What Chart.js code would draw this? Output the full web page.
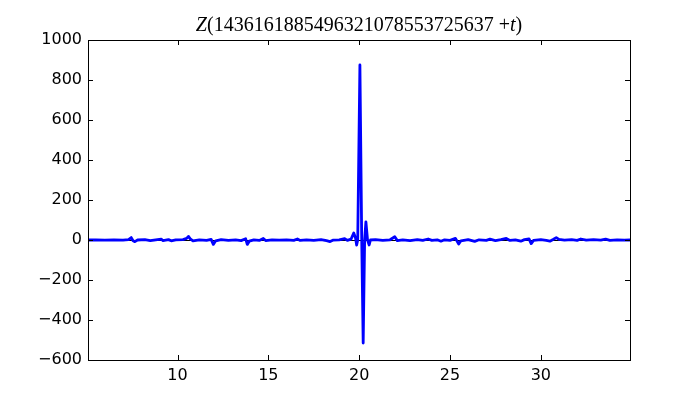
<!DOCTYPE html>
<html>
<head>
<meta charset="utf-8">
<script src="https://cdn.jsdelivr.net/npm/chart.js@4"></script>
<style>
    body { margin: 0; background: #fff; }
    #wrap { position: relative; width: 700px; height: 400px; }
    #title {
        position: absolute;
        left: 88px;
        width: 542px;
        top: 13px;
        text-align: center;
        font-family: "Liberation Serif", "DejaVu Serif", serif;
        font-size: 20px;
        line-height: 22px;
        color: #000;
        white-space: nowrap;
    }
</style>
</head>
<body>
<div id="wrap">
    <canvas id="zCanvas" width="700" height="400"></canvas>
    <div id="title"><i>Z</i>(1436161885496321078553725637 +<i>t</i>)</div>
</div>
<script>
// Data
const tValues = [
    5.07, 5.5, 6.0, 6.5, 7.0, 7.3, 7.45, 7.55, 7.65, 7.8,
    8.2, 8.5, 8.8, 9.1, 9.2, 9.5, 9.65, 9.9, 10.3, 10.5,
    10.6, 10.7, 10.85, 11.2, 11.6, 11.85, 11.97, 12.1, 12.4, 12.8,
    13.2, 13.5, 13.75, 13.84, 13.95, 14.2, 14.5, 14.72, 14.85, 15.2,
    15.6, 16.0, 16.4, 16.6, 16.75, 17.1, 17.5, 17.9, 18.2, 18.4,
    18.55, 18.9, 19.2, 19.35, 19.55, 19.7, 19.8, 19.86, 19.92, 20.04,
    20.14, 20.22, 20.3, 20.37, 20.46, 20.55, 20.62, 20.9, 21.3, 21.7,
    21.96, 22.1, 22.4, 22.8, 23.2, 23.5, 23.8, 24.0, 24.3, 24.5,
    24.7, 25.0, 25.3, 25.48, 25.6, 26.0, 26.36, 26.6, 27.0, 27.2,
    27.5, 27.8, 28.1, 28.3, 28.6, 28.9, 29.1, 29.35, 29.47, 29.6,
    30.0, 30.3, 30.5, 30.7, 30.85, 31.0, 31.3, 31.7, 32.0, 32.2,
    32.5, 32.9, 33.3, 33.57, 33.8, 34.2, 34.6, 34.91
];
const zValues = [
    0, 1, -1, 1, -1, 2, 12, -4, -8, 0,
    2, -3, 1, 4, -3, 2, -4, 1, 2, 8,
    18, 6, -4, 1, -2, 3, -22, -4, 2, -2,
    1, -3, 6, -22, -6, 1, -2, 8, -3, 1,
    -1, 1, -2, 5, -2, 1, -2, 2, -3, -8,
    -1, 1, 7, -2, 4, 35, 10, -25, 0, 875,
    0, -515, 0, 91, 0, -25, 0, 2, -2, 1,
    16, -3, 1, -3, 2, -2, 5, -2, 1, -6,
    1, -2, 8, -20, -4, 2, -7, 1, -2, 4,
    -3, 2, 8, -2, 1, -6, 2, 6, -18, -2,
    2, -2, -6, 4, 12, 3, -1, 2, -2, 5,
    -1, 2, -1, 4, -2, 1, -1, 0
];
const xTicks = [10, 15, 20, 25, 30];
const yMin = -600;
const yMax = 1000;
const yStep = 200;

// Frame, inward ticks and zero line like the classic matplotlib look
const framePlugin = {
    id: 'frame',
    beforeDatasetsDraw(chart) {
        const { ctx, chartArea, scales } = chart;
        const y0 = Math.round(scales.y.getPixelForValue(0)) + 0.5;
        ctx.save();
        ctx.strokeStyle = '#000';
        ctx.lineWidth = 1;
        ctx.beginPath();
        ctx.moveTo(chartArea.left, y0);
        ctx.lineTo(chartArea.right, y0);
        ctx.stroke();
        ctx.restore();
    },
    afterDatasetsDraw(chart) {
        const { ctx, chartArea, scales } = chart;
        const len = 5;
        ctx.save();
        ctx.strokeStyle = '#000';
        ctx.lineWidth = 1;
        ctx.beginPath();
        scales.x.ticks.forEach(t => {
            const px = Math.round(scales.x.getPixelForValue(t.value)) + 0.5;
            ctx.moveTo(px, chartArea.bottom);
            ctx.lineTo(px, chartArea.bottom - len);
            ctx.moveTo(px, chartArea.top);
            ctx.lineTo(px, chartArea.top + len);
        });
        scales.y.ticks.forEach(t => {
            const py = Math.round(scales.y.getPixelForValue(t.value)) + 0.5;
            ctx.moveTo(chartArea.left, py);
            ctx.lineTo(chartArea.left + len, py);
            ctx.moveTo(chartArea.right, py);
            ctx.lineTo(chartArea.right - len, py);
        });
        ctx.stroke();
        ctx.strokeRect(Math.round(chartArea.left) + 0.5, Math.round(chartArea.top) + 0.5,
            Math.round(chartArea.right - chartArea.left), Math.round(chartArea.bottom - chartArea.top));
        ctx.restore();
    }
};

const tickFont = { family: '"DejaVu Sans", sans-serif', size: 16 };

new Chart(document.getElementById('zCanvas'), {
    type: 'line',
    data: {
        datasets: [{
            data: tValues.map((t, i) => ({ x: t, y: zValues[i] })),
            borderColor: '#0000ff',
            borderWidth: 2.8,
            borderJoinStyle: 'round',
            borderCapStyle: 'round',
            pointRadius: 0,
            tension: 0,
            fill: false
        }]
    },
    options: {
        responsive: false,
        animation: false,
        layout: { padding: { top: 40, right: 70, left: 0, bottom: 0 } },
        plugins: {
            legend: { display: false },
            tooltip: { enabled: false }
        },
        scales: {
            x: {
                type: 'linear',
                min: 5.07,
                max: 34.91,
                afterBuildTicks: scale => {
                    scale.ticks = xTicks.map(v => ({ value: v }));
                },
                afterFit: scale => { scale.height = 40; },
                grid: { display: false, drawTicks: false },
                border: { display: false },
                ticks: {
                    font: tickFont,
                    color: '#000',
                    padding: 6,
                    maxRotation: 0,
                    callback: v => String(v)
                }
            },
            y: {
                min: yMin,
                max: yMax,
                afterFit: scale => { scale.width = 88; },
                grid: { display: false, drawTicks: false },
                border: { display: false },
                ticks: {
                    stepSize: yStep,
                    font: tickFont,
                    color: '#000',
                    padding: 6,
                    callback: v => (v < 0 ? '\u2212' + Math.abs(v) : String(v))
                }
            }
        }
    },
    plugins: [framePlugin]
});
</script>
</body>
</html>
